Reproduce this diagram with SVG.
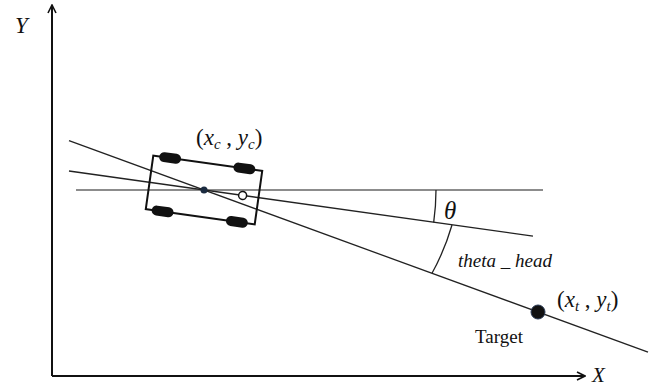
<svg xmlns="http://www.w3.org/2000/svg" width="653" height="387" viewBox="0 0 653 387">
<style>
.math{font-family:"Liberation Serif","Times New Roman",serif;font-style:italic;fill:#111}
.up{font-style:normal}
.ln{stroke:#222;stroke-width:1.3;fill:none}
.axis{stroke:#111;stroke-width:2;fill:none}
.wheel{fill:#111}
</style>
<defs>
<marker id="arr" viewBox="0 0 10 10" refX="9" refY="5" markerWidth="10" markerHeight="10" markerUnits="userSpaceOnUse" orient="auto">
<path d="M1,1 L9,5 L1,9" fill="none" stroke="#111" stroke-width="1.6"/>
</marker>
</defs>
<rect width="653" height="387" fill="#fff"/>
<g id="axes">
<line class="axis" x1="52" y1="376" x2="52" y2="5" marker-end="url(#arr)"/>
<line class="axis" x1="52" y1="376" x2="585" y2="376" marker-end="url(#arr)"/>
<text class="math" x="15" y="33" font-size="23">Y</text>
<text class="math" x="592" y="382" font-size="21">X</text>
</g>
<g id="connectors">
<line x1="76" y1="190" x2="543" y2="190" stroke="#666" stroke-width="1.4"/>
<line class="ln" x1="69" y1="171" x2="533" y2="236.2"/>
<line class="ln" x1="69" y1="140.7" x2="648" y2="352.2"/>
<path class="ln" d="M436,190 A232,232 0 0 1 433.7,222.3"/>
<path class="ln" d="M452,225 A240,240 0 0 1 432,273.3"/>
</g>
<g id="car">
<g transform="translate(204,190) rotate(8)">
<rect x="-55" y="-27" width="110" height="54" fill="none" stroke="#111" stroke-width="2"/>
<rect class="wheel" x="-49" y="-32" width="22" height="10" rx="5"/>
<rect class="wheel" x="26" y="-32" width="22" height="10" rx="5"/>
<rect class="wheel" x="-49" y="22" width="22" height="10" rx="5"/>
<rect class="wheel" x="26" y="22" width="22" height="10" rx="5"/>
<circle cx="39" cy="0" r="4" fill="#fff" stroke="#111" stroke-width="1.5"/>
</g>
<circle cx="204" cy="190" r="3.5" fill="#1b2b40"/>
<text class="math" x="196" y="145" font-size="23"><tspan class="up">(</tspan>x<tspan font-size="15" dy="4">c</tspan><tspan class="up" dy="-4"> , </tspan>y<tspan font-size="15" dy="4">c</tspan><tspan class="up" dy="-4">)</tspan></text>
</g>
<g id="theta">
<text class="math" x="444" y="219" font-size="25">θ</text>
</g>
<g id="theta_head">
<text class="math" x="458" y="267" font-size="19">theta _ head</text>
</g>
<g id="target">
<circle cx="538" cy="312" r="7" fill="#111" stroke="#2a3a55" stroke-width="1"/>
<text class="math" x="557" y="307" font-size="23"><tspan class="up">(</tspan>x<tspan font-size="15" dy="4">t</tspan><tspan class="up" dy="-4"> , </tspan>y<tspan font-size="15" dy="4">t</tspan><tspan class="up" dy="-4">)</tspan></text>
<text x="475" y="343" font-family="Liberation Serif, Times New Roman, serif" font-size="19" fill="#111">Target</text>
</g>
</svg>
